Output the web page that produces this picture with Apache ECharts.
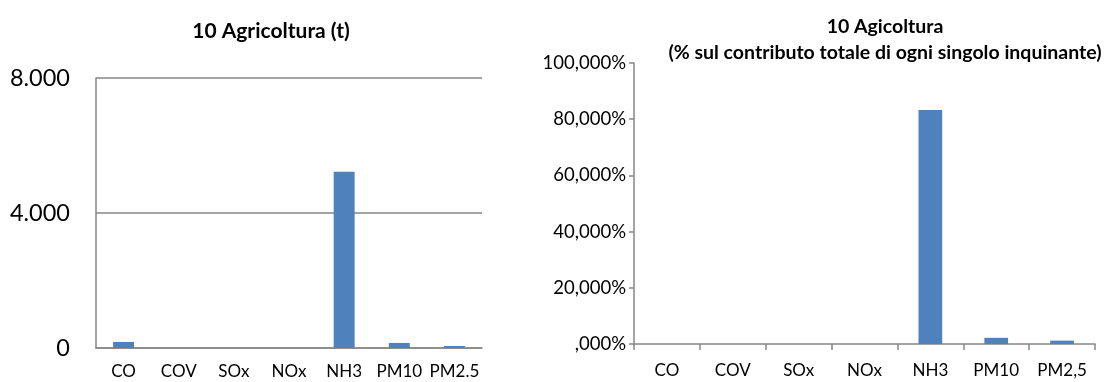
<!DOCTYPE html>
<html>
<head>
<meta charset="utf-8">
<script src="https://cdn.jsdelivr.net/npm/echarts@6/dist/echarts.min.js"></script>
<style>
html, body { margin: 0; padding: 0; background: #fff; }
#chart { width: 1108px; height: 382px; }
</style>
</head>
<body>
<div id="chart"></div>
<script>
// inquinanti
const leftCategories = ['CO', 'COV', 'SOx', 'NOx', 'NH3', 'PM10', 'PM2.5'];
const rightCategories = ['CO', 'COV', 'SOx', 'NOx', 'NH3', 'PM10', 'PM2,5'];
// tonnellate
const tonValues = [180, 0, 0, 0, 5220, 150, 60];
// % sul totale
const pctValues = [0, 0, 0, 0, 83.3, 2.2, 1.2];

const FONT = 'Lato, "Open Sans", sans-serif';
const axisGray = '#868686';
const barBlue = '#4F81BD';

function fmtThousands(v) {
    return String(v).replace(/\B(?=(\d{3})+(?!\d))/g, '.');
}
function fmtPct(v) {
    if (v === 0) return ',000%';
    return v + ',000%';
}

const chart = echarts.init(document.getElementById('chart'));
chart.setOption({
    animation: false,
    textStyle: { fontFamily: FONT },
    title: [
        {
            text: '10 Agricoltura (t)',
            left: 266, top: 16, textAlign: 'center',
            textStyle: { fontFamily: FONT, fontSize: 21, fontWeight: 'bold', color: '#000' }
        },
        {
            text: '10 Agicoltura\n(% sul contributo totale di ogni singolo inquinante)',
            left: 880, top: 9, textAlign: 'center',
            textStyle: { fontFamily: FONT, fontSize: 19.5, fontWeight: 'bold', color: '#000', lineHeight: 26 }
        }
    ],
    grid: [
        { left: 96, right: 626, top: 78, bottom: 34 },
        { left: 634, right: 13, top: 63, bottom: 38 }
    ],
    xAxis: [
        {
            type: 'category', gridIndex: 0, data: leftCategories,
            axisLine: { lineStyle: { color: axisGray, width: 1.5 } },
            axisTick: { show: false },
            axisLabel: { color: '#000', fontSize: 17, margin: 15, interval: 0, fontFamily: FONT }
        },
        {
            type: 'category', gridIndex: 1, data: rightCategories,
            axisLine: { lineStyle: { color: axisGray, width: 1.5 } },
            axisTick: { show: true, length: 6, lineStyle: { color: axisGray, width: 1.5 } },
            axisLabel: { color: '#000', fontSize: 17, margin: 18, interval: 0, fontFamily: FONT }
        }
    ],
    yAxis: [
        {
            type: 'value', gridIndex: 0, min: 0, max: 8000, interval: 4000,
            axisLine: { show: true, lineStyle: { color: axisGray, width: 1.5 } },
            axisTick: { show: false },
            splitLine: { show: true, lineStyle: { color: axisGray, width: 1.5 } },
            axisLabel: { color: '#000', fontSize: 23.5, margin: 26, formatter: fmtThousands, fontFamily: FONT }
        },
        {
            type: 'value', gridIndex: 1, min: 0, max: 100, interval: 20,
            axisLine: { show: true, lineStyle: { color: axisGray, width: 1.5 } },
            axisTick: { show: true, length: 5, lineStyle: { color: axisGray, width: 1.5 } },
            splitLine: { show: false },
            axisLabel: { color: '#000', fontSize: 18.5, margin: 8, formatter: fmtPct, fontFamily: FONT }
        }
    ],
    series: [
        {
            type: 'bar', xAxisIndex: 0, yAxisIndex: 0, data: tonValues,
            barWidth: '38%', itemStyle: { color: barBlue }
        },
        {
            type: 'bar', xAxisIndex: 1, yAxisIndex: 1, data: pctValues,
            barWidth: '36%', itemStyle: { color: barBlue }
        }
    ]
});
</script>
</body>
</html>
